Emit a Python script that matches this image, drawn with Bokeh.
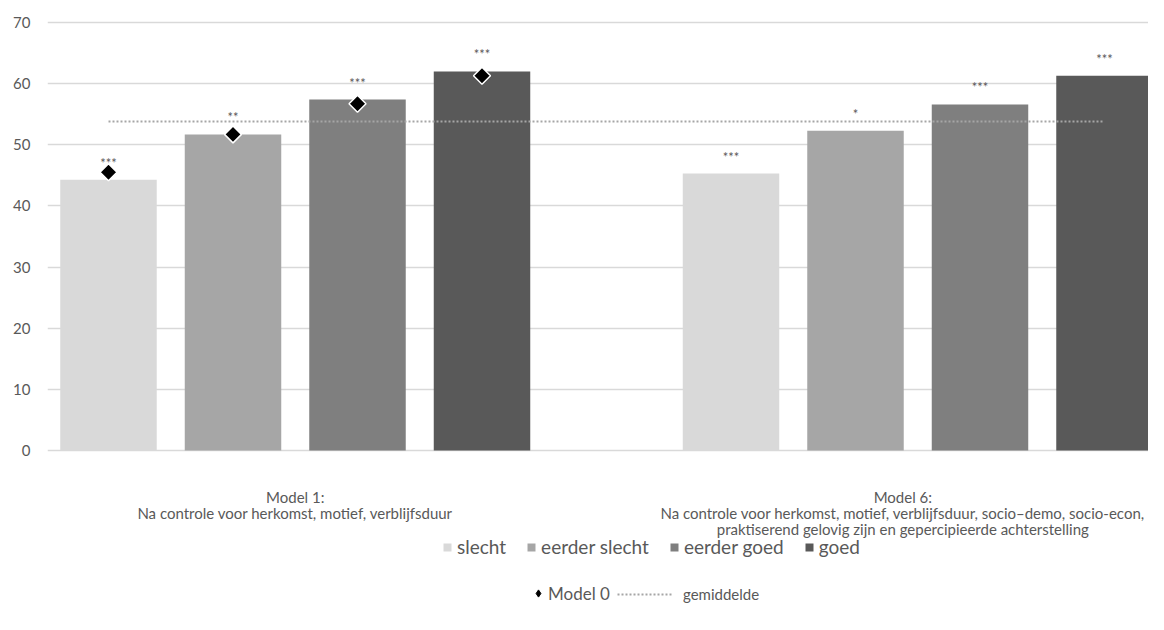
import math
import numpy as np
from bokeh.plotting import figure
from bokeh.models import Range1d, FixedTicker, Legend, LegendItem
from bokeh.embed import file_html
from bokeh.resources import INLINE
from bokeh.core.properties import value

# ---------------- data ----------------
series = ["slecht", "eerder slecht", "eerder goed", "goed"]
series_colors = ["#D9D9D9", "#A6A6A6", "#7F7F7F", "#595959"]
models = [
    "Model 1:\nNa controle voor herkomst, motief, verblijfsduur",
    "Model 6:\nNa controle voor herkomst, motief, verblijfsduur, socio\u2013demo, socio-econ,\npraktiserend gelovig zijn en gepercipieerde achterstelling",
]
model1_values = [44.3, 51.7, 57.4, 62.0]
model6_values = [45.3, 52.3, 56.6, 61.3]
model1_stars = ["***", "**", "***", "***"]
model6_stars = ["***", "*", "***", "***"]
model0_values = [45.5, 51.7, 56.7, 61.3]
gemiddelde = 53.8
y_ticks = [0, 10, 20, 30, 40, 50, 60, 70]

# ---------------- layout ----------------
FONT = "Lato"
GREY_TXT = "#595959"
slots_per_group = 5          # 4 bars + one empty slot between the model groups
px_per_unit = 428 / 70.0     # vertical pixels per value unit
px_per_slot = 124.5
first_bar_px = 108
frame_left = 47

W, H = 1148, 614
p = figure(width=W, height=H, output_backend="svg", toolbar_location=None,
           x_range=Range1d((frame_left - first_bar_px) / px_per_slot,
                           (W - first_bar_px) / px_per_slot),
           y_range=Range1d(-(H - 450) / px_per_unit, 70 + 22 / px_per_unit),
           min_border_left=frame_left, min_border_right=0,
           min_border_top=0, min_border_bottom=0)
p.outline_line_color = None
p.background_fill_color = "white"
p.border_fill_color = "white"

p.xaxis.visible = False
p.xgrid.grid_line_color = None
p.yaxis.ticker = FixedTicker(ticks=y_ticks)
p.ygrid.ticker = FixedTicker(ticks=y_ticks)
p.ygrid.grid_line_color = "#D9D9D9"
p.ygrid.grid_line_width = 1.3
p.yaxis.axis_line_color = None
p.yaxis.major_tick_line_color = None
p.yaxis.minor_tick_line_color = None
p.yaxis.major_tick_out = 0
p.yaxis.major_tick_in = 0
p.yaxis.minor_tick_out = 0
p.yaxis.major_label_standoff = 17
p.yaxis.major_label_text_font = FONT
p.yaxis.major_label_text_font_size = "15px"
p.yaxis.major_label_text_color = GREY_TXT

bar_renderers = []
for s, (name, col) in enumerate(zip(series, series_colors)):
    xs = [g * slots_per_group + s for g in range(len(models))]
    tops = [model1_values[s], model6_values[s]]
    r = p.vbar(x=xs, top=tops, bottom=0, width=0.775, fill_color=col, line_color=None)
    bar_renderers.append(r)

# significance stars above the bars
star_x, star_y, star_t = [], [], []
for g, (vals, stars) in enumerate([(model1_values, model1_stars), (model6_values, model6_stars)]):
    for s in range(len(series)):
        star_x.append(g * slots_per_group + s)
        star_y.append(vals[s])
        star_t.append(stars[s])
p.text(x=star_x, y=star_y, text=star_t, y_offset=-17, text_align="center",
       text_baseline="middle", text_font=value(FONT), text_font_size="13px",
       text_color=GREY_TXT)

# average line (from first bar of Model 1 to last bar of Model 6)
mean_r = p.line(x=[0, slots_per_group + len(series) - 1], y=[gemiddelde, gemiddelde],
                line_color="#A6A6A6", line_width=2, line_dash="2 2")

# Model 0 diamonds
m0_r = p.scatter(x=list(range(len(series))), y=model0_values, marker="square",
                 angle=math.pi / 4, size=12, fill_color="black",
                 line_color="white", line_width=1.5)
# legend key for Model 0 (a single NaN point, so nothing is drawn in the plot)
m0_key = p.scatter(x=np.array([np.nan]), y=np.array([np.nan]), marker="diamond",
                   size=10, fill_color="black", line_color="black")

# category labels (the long Model 6 label is nudged left so it stays inside the frame)
cat_x = [g * slots_per_group + (len(series) - 1) / 2 for g in range(len(models))]
cat_x[-1] -= 0.12
p.text(x=cat_x, y=[-(487 - 450) / px_per_unit] * len(models), text=models,
       text_align="center", text_baseline="top", text_font=value(FONT),
       text_font_size="15px", text_line_height=0.9, text_color=GREY_TXT)

# legends
def mk_legend(items, loc, gw, gh, fs, standoff=5, spacing=20):
    lg = Legend(items=items, orientation="horizontal", location=loc,
                glyph_width=gw, glyph_height=gh, label_standoff=standoff,
                spacing=spacing, padding=0, margin=0, border_line_color=None,
                background_fill_alpha=0, label_text_font=FONT,
                label_text_font_size=fs, label_text_color=GREY_TXT)
    p.add_layout(lg)
    return lg

mk_legend([LegendItem(label=n, renderers=[r]) for n, r in zip(series, bar_renderers)],
          (395, 56), 10, 10, "19px")
mk_legend([LegendItem(label="Model 0", renderers=[m0_key])], (482, 10), 18, 22, "17px",
          standoff=1)
mk_legend([LegendItem(label="gemiddelde", renderers=[mean_r])], (570, 11), 56, 14, "15px",
          standoff=10)

open("out.html", "w").write(file_html(p, INLINE))
